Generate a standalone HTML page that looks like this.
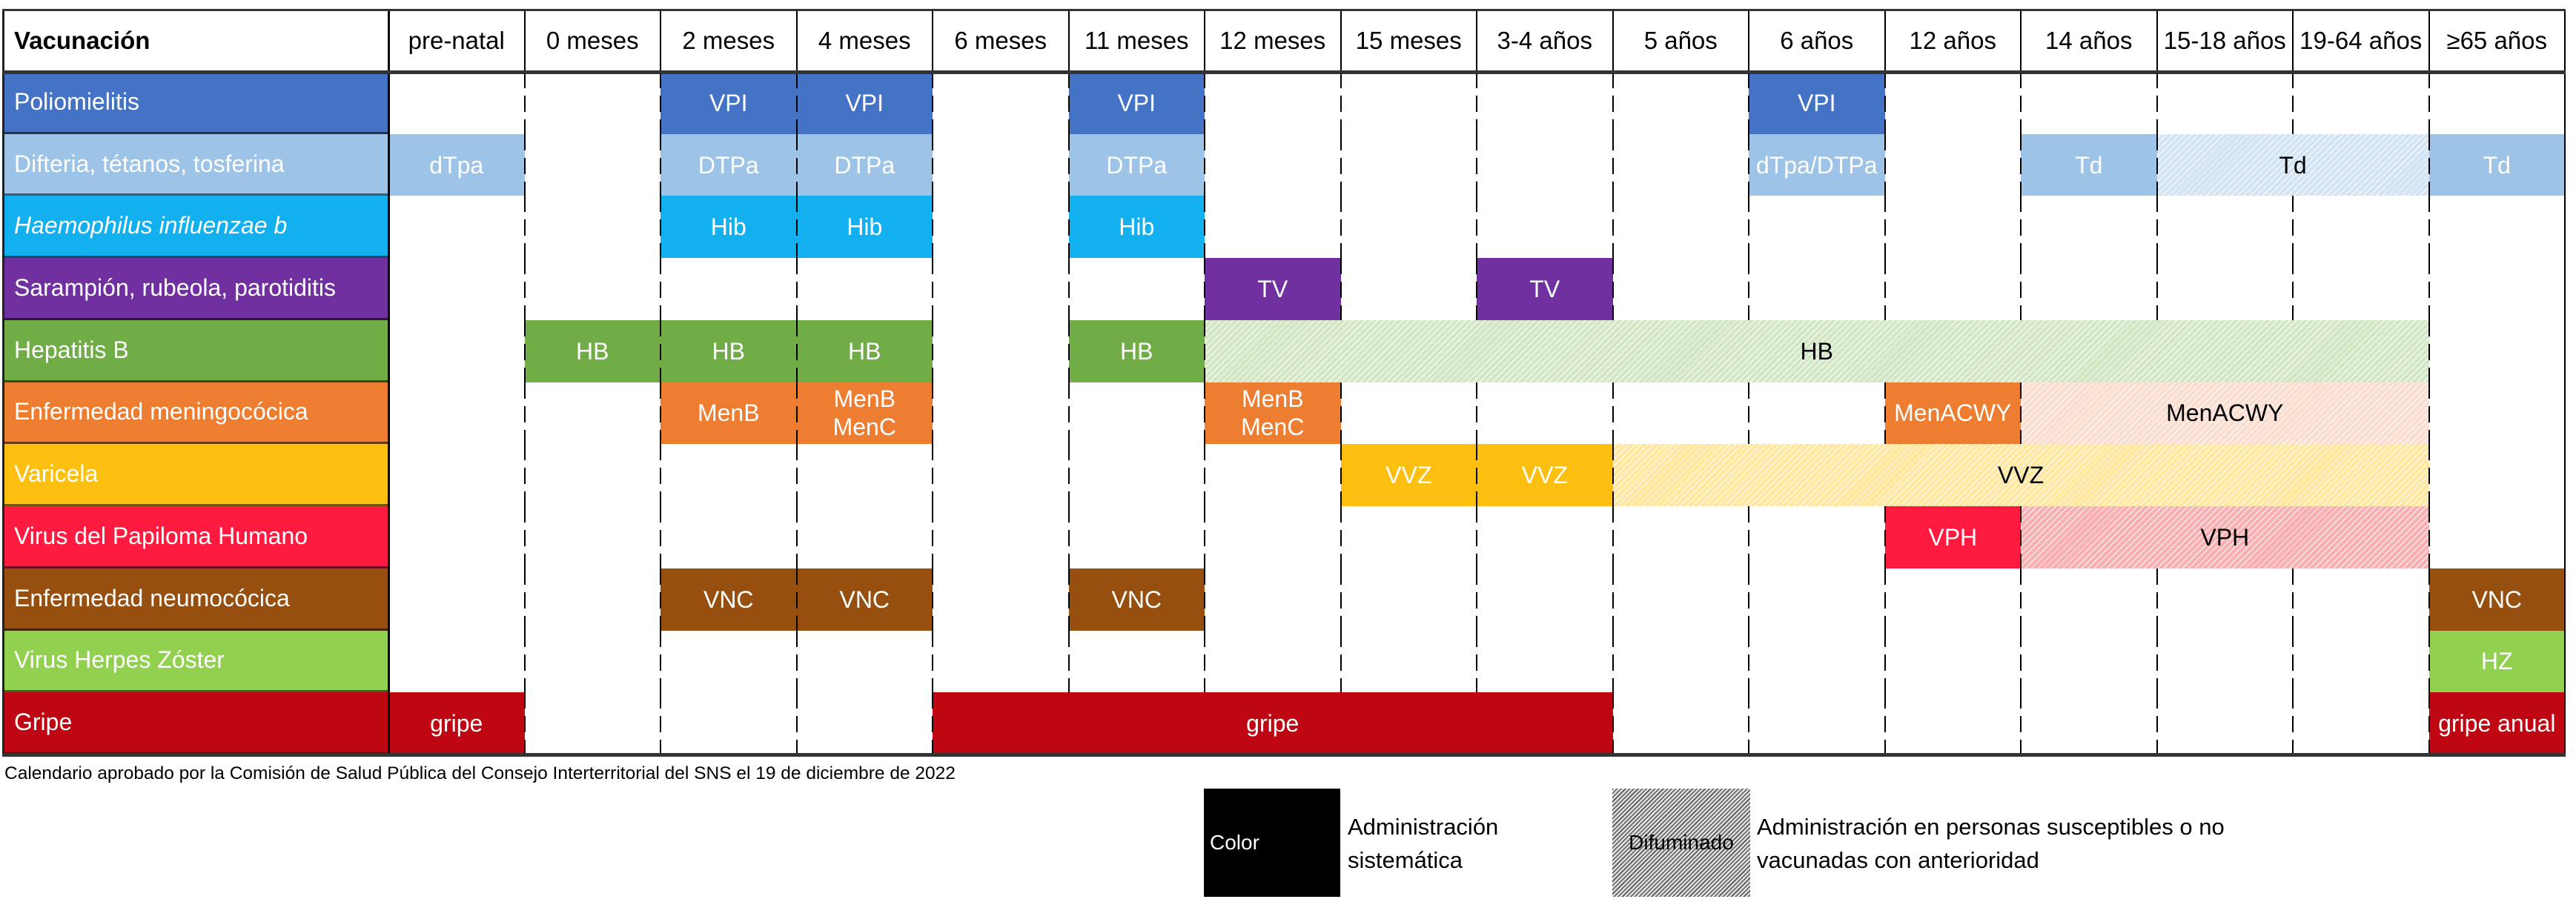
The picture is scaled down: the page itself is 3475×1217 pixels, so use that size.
<!DOCTYPE html>
<html><head><meta charset="utf-8">
<style>
html,body{margin:0;padding:0;background:#fff;font-family:"Liberation Sans",Arial,sans-serif;}
#root{position:relative;width:3475px;height:1217px;overflow:hidden;font-family:"Liberation Sans",Arial,sans-serif;}
.abs{position:absolute;box-sizing:border-box;}
.cell{display:flex;align-items:center;justify-content:center;text-align:center;font-size:32px;line-height:38px;}
.lbl{display:flex;align-items:center;padding-left:14px;font-size:32px;color:#fff;}
.hdr{display:flex;align-items:center;justify-content:center;font-size:33px;color:#000;}
</style></head>
<body>
<div id="root"></div>
<script>
const columns=["pre-natal","0 meses","2 meses","4 meses","6 meses","11 meses","12 meses","15 meses","3-4 años","5 años","6 años","12 años","14 años","15-18 años","19-64 años","≥65 años"];
const rowLabels=["Poliomielitis","Difteria, tétanos, tosferina","Haemophilus influenzae b","Sarampión, rubeola, parotiditis","Hepatitis B","Enfermedad meningocócica","Varicela","Virus del Papiloma Humano","Enfermedad neumocócica","Virus Herpes Zóster","Gripe"];
const rowColors=["#4472c4","#9dc3e6","#12b0ee","#7030a0","#70ad47","#ed7d31","#fdbf10","#ff1a40","#964f0e","#92d050","#be0712"];
const rowHatch=["#c7dcf2","#d3e4f4","#bde7fb","#dccbeb","#d3e7c5","#fbded0","#ffe7a0","#f8b0b3","#e8d3bf","#e2f1d0","#f3b9b9"];
const segRow=[0,0,0,0, 1,1,1,1,1,1,1,1, 2,2,2, 3,3, 4,4,4,4,4, 5,5,5,5,5, 6,6,6, 7,7, 8,8,8,8, 9, 10,10,10];
const segStart=[2,3,5,10, 0,2,3,5,10,12,13,15, 2,3,5, 6,8, 1,2,3,5,6, 2,3,6,11,12, 7,8,9, 11,12, 2,3,5,15, 15, 0,4,15];
const segEnd=[2,3,5,10, 0,2,3,5,10,12,14,15, 2,3,5, 6,8, 1,2,3,5,14, 2,3,6,11,14, 7,8,14, 11,14, 2,3,5,15, 15, 0,8,15];
const segText=["VPI","VPI","VPI","VPI","dTpa","DTPa","DTPa","DTPa","dTpa/DTPa","Td","Td","Td","Hib","Hib","Hib","TV","TV","HB","HB","HB","HB","HB","MenB","MenB\nMenC","MenB\nMenC","MenACWY","MenACWY","VVZ","VVZ","VVZ","VPH","VPH","VNC","VNC","VNC","VNC","HZ","gripe","gripe","gripe anual"];
const segHatched=[0,0,0,0, 0,0,0,0,0,0,1,0, 0,0,0, 0,0, 0,0,0,0,1, 0,0,0,0,1, 0,0,1, 0,1, 0,0,0,0, 0, 0,0,0];

const root=document.getElementById('root');
const X0=5,LBLW=519,COLW=183.5,TOP=12,HDRB=97,ROWH=(1018-97)/11;
const colX=i=>X0+LBLW+i*COLW;
const rowY=r=>HDRB+r*ROWH;
function mk(cls,css){const d=document.createElement('div');d.className='abs '+(cls||'');Object.assign(d.style,css);root.appendChild(d);return d;}

let h=mk('hdr',{left:X0+'px',top:TOP+'px',width:LBLW+'px',height:(HDRB-TOP)+'px',justifyContent:'flex-start',paddingLeft:'14px',fontWeight:'bold'});
h.textContent='Vacunación';


columns.forEach((c,i)=>{
  const d=mk('hdr',{left:colX(i)+'px',top:TOP+'px',width:COLW+'px',height:(HDRB-TOP)+'px'});
  d.textContent=c;
  
  
});
rowLabels.forEach((t,r)=>{
  const d=mk('lbl',{left:X0+'px',top:rowY(r)+'px',width:LBLW+'px',height:ROWH+'px',background:rowColors[r],borderBottom:'3px solid rgba(0,0,0,0.55)'});
  d.textContent=t;
  if(r===2)d.style.fontStyle='italic';
  
  
});
segRow.forEach((r,k)=>{
  const hat=segHatched[k];
  const bg=hat?`repeating-linear-gradient(135deg, ${rowHatch[r]} 0 3px, #ffffff 3px 4px, ${rowHatch[r]} 4px 6px)`:rowColors[r];
  const d=mk('cell',{left:colX(segStart[k])+'px',top:rowY(r)+'px',width:((segEnd[k]-segStart[k]+1)*COLW)+'px',height:ROWH+'px',background:bg,color:hat?'#000':'#fff'});
  d.innerHTML=segText[k].split('\n').join('<br>');
  
  
});
for(let i=0;i<=16;i++){
  const x=colX(i);
  const v=mk('',{left:(x-1)+'px',top:TOP+'px',width:'2px',height:(HDRB-TOP)+'px',background:'#000'});
  
  
}
for(let r=0;r<11;r++){
  for(let i=1;i<=16;i++){
    let interior=false;
    segRow.forEach((sr,k)=>{if(sr===r&&i>segStart[k]&&i<=segEnd[k])interior=true;});
    if(interior)continue;
    const x=colX(i);
    const solid=(i===16);
    const v=mk('',{left:(x-1)+'px',top:rowY(r)+'px',width:'2px',height:ROWH+'px',
      background:solid?'#000':'repeating-linear-gradient(180deg,#000 0 22px,transparent 22px 32px)'});
    
    
  }
}
let e=mk('',{left:(colX(0)-1)+'px',top:TOP+'px',width:'3px',height:(1018-TOP)+'px',background:'#000'});

e=mk('',{left:(X0-2)+'px',top:TOP+'px',width:'3px',height:(1018-TOP)+'px',background:'#222'});

[[TOP,3,'#333'],[HDRB-2,5,'#333'],[1016,5,'#333']].forEach(([y,t,c])=>{
  const l=mk('',{left:(X0-2)+'px',top:y+'px',width:(colX(16)-X0+3)+'px',height:t+'px',background:c});
  
  
});
</script>
<div class="abs" style="left:6px;top:1030px;font-size:24.5px;color:#000;white-space:nowrap;">Calendario aprobado por la Comisión de Salud Pública del Consejo Interterritorial del SNS el 19 de diciembre de 2022</div>
<div class="abs" style="left:1624px;top:1064px;width:184px;height:146px;background:#000;color:#fff;font-size:28px;display:flex;align-items:center;padding-left:8px;">Color</div>
<div class="abs" style="left:1818px;top:1093px;font-size:31px;line-height:45px;color:#000;">Administración<br>sistemática</div>
<div class="abs" style="left:2175px;top:1064px;width:186px;height:146px;background:repeating-linear-gradient(135deg,#555 0 1.5px,#ddd 1.5px 4px);color:#000;font-size:28px;display:flex;align-items:center;justify-content:center;">Difuminado</div>
<div class="abs" style="left:2370px;top:1093px;font-size:31px;line-height:45px;color:#000;white-space:nowrap;">Administración en personas susceptibles o no<br>vacunadas con anterioridad</div>
</body></html>
